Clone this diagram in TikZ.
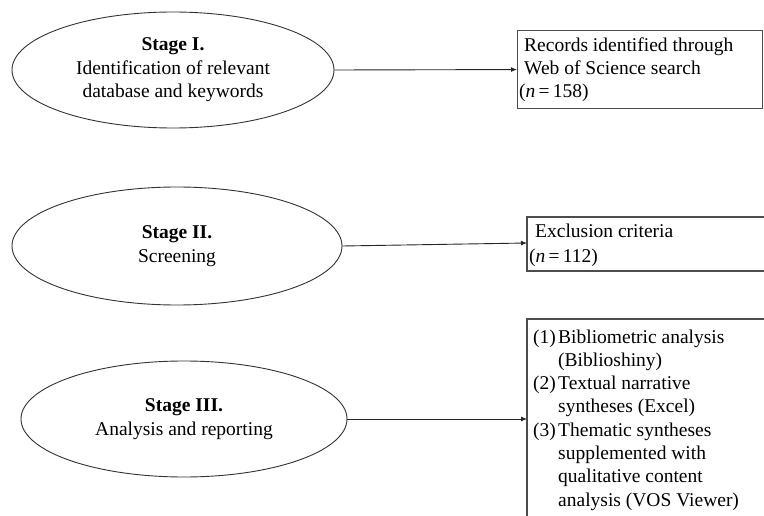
\documentclass[tikz,border=0pt]{standalone}
\usepackage{fontspec}
\setmainfont{Liberation Serif}
\usetikzlibrary{shapes.geometric,arrows.meta}
\begin{document}
\begin{tikzpicture}[x=1pt,y=-1pt,
  stage/.style={draw=black!80, ellipse, line width=0.9pt, inner sep=0pt, align=center,
    font=\fontsize{19.5}{23.5}\selectfont},
  ln/.style={anchor=base west, inner sep=0pt, font=\fontsize{19.5}{23.5}\selectfont},
  border/.style={draw=black!70, line width=1.1pt},
  conn/.style={draw=black!85, line width=0.9pt, -{Latex[length=6pt,width=5pt]}}]
\useasboundingbox (0,0) rectangle (764,516);
\fill[white] (0,0) rectangle (764,516);

% Stage ellipses
\node[stage, minimum width=322pt, minimum height=116pt] (s1) at (173,70)
  {\textbf{Stage I.}\\Identification of relevant\\database and keywords};
\node[stage, minimum width=330pt, minimum height=118pt] (s2) at (177,246)
  {\textbf{Stage II.}\\Screening};
\node[stage, minimum width=326pt, minimum height=116pt] (s3) at (184,419)
  {\textbf{Stage III.}\\Analysis and reporting};

% Box 1
\node[border, draw, rectangle, minimum width=245pt, minimum height=78pt,
  anchor=north west, inner sep=0pt] (b1) at (517,30) {};
\node[ln] (t1a) at (524,52) {Records identified through};
\node[ln] (t1b) at (524,75) {Web of Science search};
\node[ln] (t1c) at (519,98) {(\textit{n}\,=\,158)};

% Box 2 (cut at right)
\coordinate (b2tl) at (527,217);
\coordinate (b2bl) at (527,271);
\coordinate (b2tr) at (764,217);
\coordinate (b2br) at (764,271);
\draw[border] (b2tr) -- (b2tl) -- (b2bl) -- (b2br);
\coordinate (b2) at (527,243);
\node[ln] (t2a) at (535,238) {Exclusion criteria};
\node[ln] (t2b) at (529,262) {(\textit{n}\,=\,112)};

% Box 3 (cut at right and bottom)
\coordinate (b3tl) at (527,319);
\coordinate (b3bl) at (527,516);
\coordinate (b3tr) at (764,319);
\draw[border] (b3bl) -- (b3tl) -- (b3tr);
\coordinate (b3) at (527,419);
\node[ln] (n1) at (533,343) {(1)};
\node[ln] (l1) at (558,343) {Bibliometric analysis};
\node[ln] (l2) at (558,366.3) {(Biblioshiny)};
\node[ln] (n2) at (533,389.6) {(2)};
\node[ln] (l3) at (558,389.6) {Textual narrative};
\node[ln] (l4) at (558,412.9) {syntheses (Excel)};
\node[ln] (n3) at (533,436.2) {(3)};
\node[ln] (l5) at (558,436.2) {Thematic syntheses};
\node[ln] (l6) at (558,459.5) {supplemented with};
\node[ln] (l7) at (558,482.8) {qualitative content};
\node[ln] (l8) at (558,506.1) {analysis (VOS Viewer)};

% Connectors
\draw[conn] (s1.east) -- (b1.west);
\draw[conn] (s2.east) -- (b2);
\draw[conn] (s3.east) -- (b3);
\end{tikzpicture}
\end{document}
